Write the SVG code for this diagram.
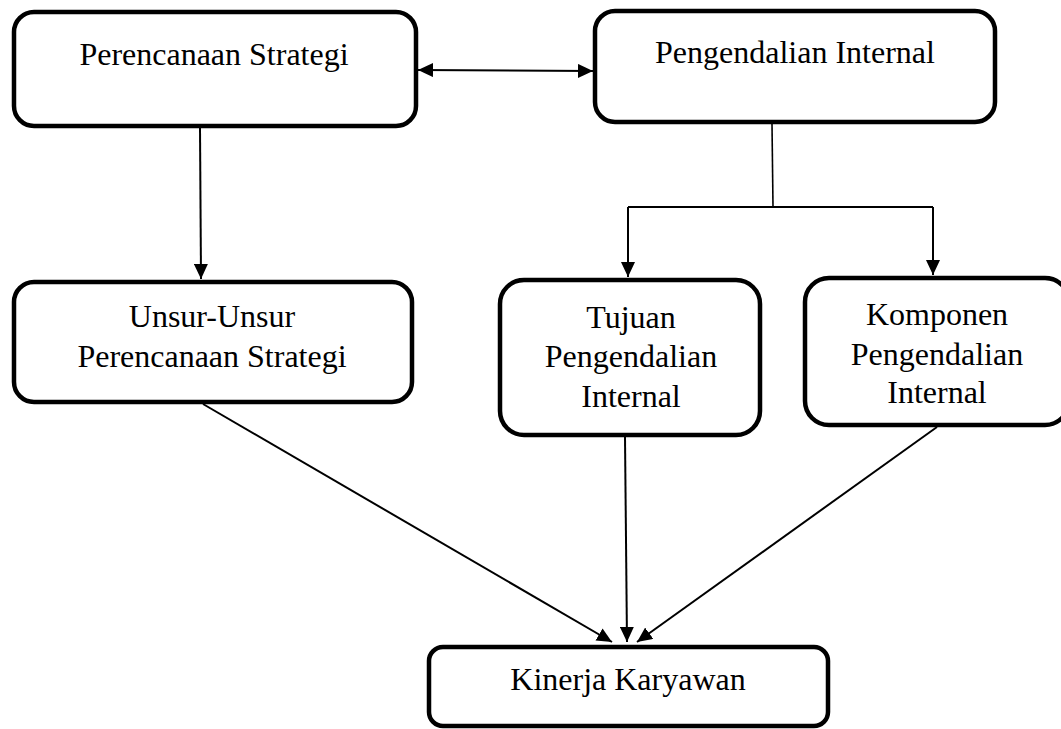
<svg xmlns="http://www.w3.org/2000/svg" width="1061" height="729" viewBox="0 0 1061 729">
<style>
.box{fill:#fff;stroke:#000;stroke-width:4.5}
.lbl{font-family:"Liberation Serif","Times New Roman",serif;font-size:32px;fill:#000;text-anchor:middle}
.con{fill:none;stroke:#000;stroke-width:2}
</style>
<defs>
<marker id="ah" markerUnits="userSpaceOnUse" markerWidth="16" markerHeight="14" refX="15" refY="7" orient="auto-start-reverse" viewBox="0 0 16 14">
<path d="M0,0 L15,7 L0,14 z" fill="#000"/>
</marker>
</defs>
<rect width="1061" height="729" fill="#fff"/>
<g id="connectors">
<line class="con" x1="418" y1="70" x2="593" y2="71" marker-start="url(#ah)" marker-end="url(#ah)"/>
<line class="con" x1="200" y1="128" x2="201" y2="279" marker-end="url(#ah)"/>
<polyline class="con" points="772,124 773,207" style="stroke-width:1.6"/>
<line class="con" x1="628" y1="207" x2="933" y2="207"/>
<line class="con" x1="628" y1="207" x2="628" y2="277" marker-end="url(#ah)"/>
<line class="con" x1="933" y1="207" x2="933" y2="275" marker-end="url(#ah)"/>
<line class="con" x1="203" y1="404" x2="612" y2="642" marker-end="url(#ah)"/>
<line class="con" x1="625" y1="437" x2="627" y2="642" marker-end="url(#ah)"/>
<line class="con" x1="937" y1="427" x2="637" y2="642" marker-end="url(#ah)"/>
</g>
<g id="n1">
<rect class="box" x="14" y="12" width="402" height="114" rx="20"/>
<text class="lbl" x="214" y="65">Perencanaan Strategi</text>
</g>
<g id="n2">
<rect class="box" x="595" y="11" width="400" height="111" rx="20"/>
<text class="lbl" x="795" y="63">Pengendalian Internal</text>
</g>
<g id="n3">
<rect class="box" x="14" y="282" width="398" height="120" rx="20"/>
<text class="lbl" x="212" y="327">Unsur-Unsur</text>
<text class="lbl" x="212" y="367">Perencanaan Strategi</text>
</g>
<g id="n4">
<rect class="box" x="500" y="280" width="260" height="155" rx="24"/>
<text class="lbl" x="631" y="328">Tujuan</text>
<text class="lbl" x="631" y="367">Pengendalian</text>
<text class="lbl" x="631" y="407">Internal</text>
</g>
<g id="n5">
<rect class="box" x="805" y="278" width="264" height="147" rx="24"/>
<text class="lbl" x="937" y="325">Komponen</text>
<text class="lbl" x="937" y="365">Pengendalian</text>
<text class="lbl" x="937" y="403">Internal</text>
</g>
<g id="n6">
<rect class="box" x="429" y="647" width="399" height="79" rx="14"/>
<text class="lbl" x="628" y="690">Kinerja Karyawan</text>
</g>
</svg>
